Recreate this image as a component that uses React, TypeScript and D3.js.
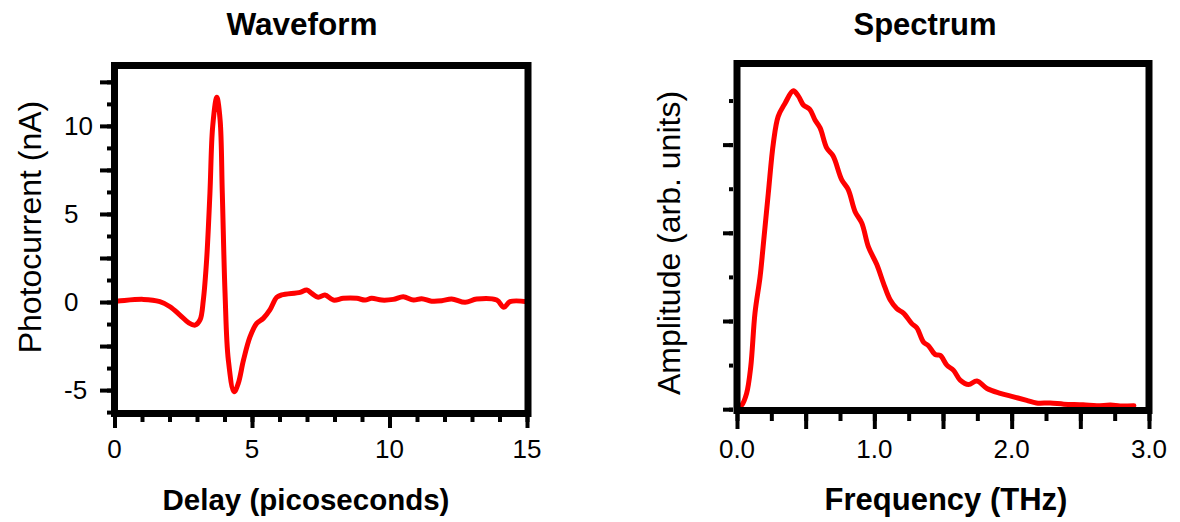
import React, { useEffect, useRef } from "react";
import * as d3 from "d3";

// waveform
const delayPs = [0, 0.14, 1.05, 1.65, 2.02, 2.38, 2.69, 2.93, 3.11, 3.23, 3.35, 3.47, 3.57, 3.72, 3.84, 3.92, 4.02, 4.14, 4.35, 4.5, 4.69, 4.93, 5.17, 5.41, 5.65, 5.9, 6.08, 6.75, 6.99, 7.17, 7.41, 7.65, 7.96, 8.32, 8.81, 9.11, 9.35, 9.72, 10.14, 10.5, 10.87, 11.17, 11.53, 11.9, 12.26, 12.75, 13.17, 13.9, 14.16, 14.38, 15];
const photocurrentNa = [0.05, 0.06, 0.15, 0.02, -0.27, -0.74, -1.17, -1.31, -1.02, 0.11, 2.39, 6.17, 9.96, 11.63, 10.34, 6.19, 0.49, -3.3, -5.1, -4.62, -3.3, -1.97, -1.21, -0.93, -0.45, 0.27, 0.4, 0.55, 0.68, 0.49, 0.27, 0.4, 0.11, 0.21, 0.21, 0.11, 0.21, 0.11, 0.15, 0.3, 0.11, 0.19, 0.05, 0.07, 0.17, -0.02, 0.17, 0.11, -0.3, 0.02, 0.02];

// spectrum
const freqTHz = [0.01, 0.034, 0.07, 0.1, 0.131, 0.168, 0.19, 0.228, 0.265, 0.3, 0.35, 0.41, 0.447, 0.483, 0.53, 0.568, 0.605, 0.654, 0.7, 0.763, 0.81, 0.86, 0.909, 0.957, 1.018, 1.066, 1.115, 1.164, 1.212, 1.273, 1.31, 1.358, 1.394, 1.443, 1.48, 1.528, 1.577, 1.625, 1.686, 1.747, 1.82, 1.917, 2.014, 2.11, 2.18, 2.28, 2.38, 2.52, 2.62, 2.72, 2.79, 2.89];
const amplitude = [0.02, 0.045, 0.18, 0.48, 1.09, 1.5, 1.84, 2.45, 3.02, 3.32, 3.47, 3.61, 3.55, 3.45, 3.4, 3.28, 3.19, 2.96, 2.87, 2.6, 2.49, 2.24, 2.11, 1.84, 1.64, 1.43, 1.24, 1.14, 1.09, 0.97, 0.92, 0.76, 0.72, 0.62, 0.61, 0.5, 0.44, 0.33, 0.28, 0.32, 0.235, 0.18, 0.14, 0.1, 0.07, 0.07, 0.057, 0.05, 0.04, 0.046, 0.037, 0.04];

const delayLabels = [0, 5, 10, 15];
const currentLabels = [-5, 0, 5, 10];
const freqLabels = [0, 1, 2, 3];

const FONT = "'Liberation Sans', Arial, Helvetica, sans-serif";

const App = () => {
  const svgRef = useRef<SVGSVGElement>(null);

  useEffect(() => {
    const svg = d3.select(svgRef.current);
    svg.selectAll("*").remove();

    const styleAxis = (g) => {
      g.select(".domain").remove();
      g.selectAll("line").attr("stroke", "black").attr("stroke-width", 4);
      g.selectAll("text").remove();
    };

    // ---------- waveform ----------
    const x1 = d3.scaleLinear().domain([0, 15]).range([114.5, 527]);
    const y1 = d3.scaleLinear().domain([-6.33, 13.43]).range([413.5, 65.5]);

    svg.append("g").attr("transform", "translate(0,416)")
      .call(d3.axisBottom(x1).tickValues(d3.range(0, 15.01, 1)).tickSize(6))
      .call(styleAxis);
    svg.append("g").attr("transform", "translate(0,416)")
      .call(d3.axisBottom(x1).tickValues(d3.range(0, 15.01, 5)).tickSize(12))
      .call(styleAxis);
    svg.append("g").attr("transform", "translate(111,0)")
      .call(d3.axisLeft(y1).tickValues(d3.range(-6.25, 13.4, 1.25)).tickSize(4))
      .call(styleAxis);
    svg.append("g").attr("transform", "translate(111,0)")
      .call(d3.axisLeft(y1).tickValues(d3.range(-5, 13.4, 2.5)).tickSize(11))
      .call(styleAxis);

    svg.append("g").selectAll("text").data(delayLabels).join("text")
      .attr("x", (d) => x1(d)).attr("y", 458)
      .attr("text-anchor", "middle").style("font-size", "26px").style("font-family", FONT)
      .text((d) => d);
    svg.append("g").selectAll("text").data(currentLabels).join("text")
      .attr("x", 64).attr("y", (d) => y1(d)).attr("dy", "0.36em")
      .style("font-size", "26px").style("font-family", FONT)
      .text((d) => d);

    const line1 = d3.line<number>()
      .x((d, i) => x1(delayPs[i]))
      .y((d) => y1(d))
      .curve(d3.curveCatmullRom.alpha(0.5));
    svg.append("path").datum(photocurrentNa).attr("d", line1)
      .attr("fill", "none").attr("stroke", "#ff0000").attr("stroke-width", 5)
      .attr("stroke-linejoin", "round").attr("stroke-linecap", "round");

    svg.append("rect").attr("x", 114.5).attr("y", 65.5).attr("width", 413.5).attr("height", 348)
      .attr("fill", "none").attr("stroke", "black").attr("stroke-width", 7);

    // ---------- spectrum ----------
    const x2 = d3.scaleLinear().domain([0, 3]).range([737, 1149]);
    const y2 = d3.scaleLinear().domain([-0.015, 3.92]).range([410.5, 63.5]);

    svg.append("g").attr("transform", "translate(0,414)")
      .call(d3.axisBottom(x2).tickValues(d3.range(0, 3.01, 0.25)).tickSize(7))
      .call(styleAxis);
    svg.append("g").attr("transform", "translate(0,414)")
      .call(d3.axisBottom(x2).tickValues(d3.range(0, 3.01, 0.5)).tickSize(15))
      .call(styleAxis);
    svg.append("g").attr("transform", "translate(733,0)")
      .call(d3.axisLeft(y2).tickValues(d3.range(0, 3.9, 0.5)).tickSize(4))
      .call(styleAxis);
    svg.append("g").attr("transform", "translate(733,0)")
      .call(d3.axisLeft(y2).tickValues(d3.range(0, 3.9, 1)).tickSize(10))
      .call(styleAxis);

    svg.append("g").selectAll("text").data(freqLabels).join("text")
      .attr("x", (d) => x2(d)).attr("y", 458)
      .attr("text-anchor", "middle").style("font-size", "26px").style("font-family", FONT)
      .text((d) => d3.format(".1f")(d));

    const line2 = d3.line<number>()
      .x((d, i) => x2(freqTHz[i]))
      .y((d) => y2(d))
      .curve(d3.curveCatmullRom.alpha(0.5));
    svg.append("path").datum(amplitude).attr("d", line2)
      .attr("fill", "none").attr("stroke", "#ff0000").attr("stroke-width", 5)
      .attr("stroke-linejoin", "round").attr("stroke-linecap", "round");

    svg.append("rect").attr("x", 737).attr("y", 63.5).attr("width", 412).attr("height", 347)
      .attr("fill", "none").attr("stroke", "black").attr("stroke-width", 7);

    // ---------- titles ----------
    const title = (x, y, txt, size, bold, rotate = false) => {
      const t = svg.append("text")
        .attr("text-anchor", "middle")
        .style("font-family", FONT)
        .style("font-size", `${size}px`)
        .style("font-weight", bold ? "bold" : "normal")
        .text(txt);
      if (rotate) t.attr("transform", `translate(${x},${y}) rotate(-90)`);
      else t.attr("x", x).attr("y", y);
    };
    title(302, 35, "Waveform", 31.5, true);
    title(925, 35, "Spectrum", 31, true);
    title(306, 510, "Delay (picoseconds)", 29.5, true);
    title(946, 510, "Frequency (THz)", 31, true);
    title(41, 227, "Photocurrent (nA)", 32, false, true);
    title(680, 243, "Amplitude (arb. units)", 32, false, true);
  }, []);

  return (
    <svg ref={svgRef} width={1180} height={522}
      style={{ position: "absolute", left: 0, top: 0, background: "white" }} />
  );
};

export default App;
